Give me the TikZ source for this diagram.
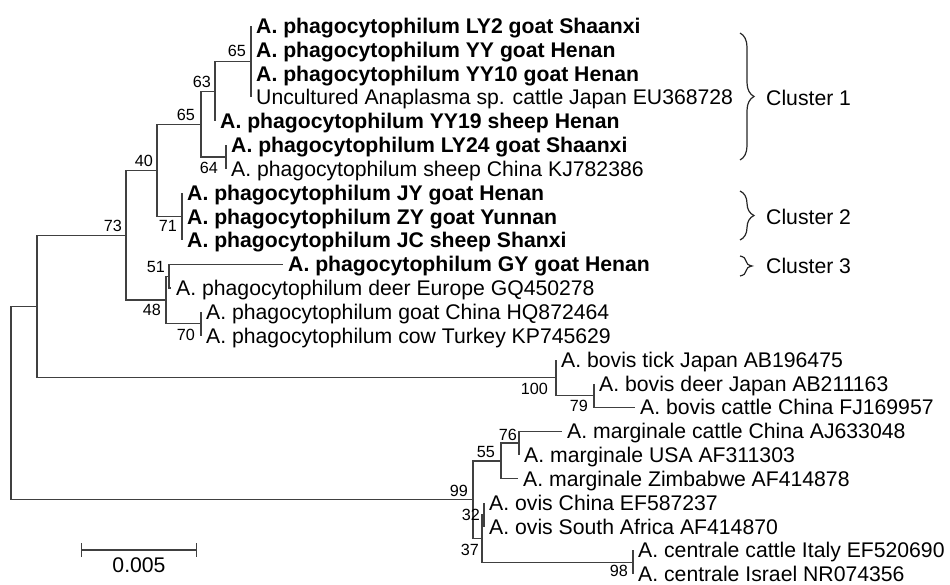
\documentclass[tikz,border=0pt]{standalone}
\usepackage{fontspec}
\setmainfont{Liberation Sans}
\usetikzlibrary{positioning,arrows.meta,decorations.pathreplacing}

\begin{document}
\begin{tikzpicture}%
  [x=1pt,y=-1pt,
   branch/.style={draw=black!75,line width=1.2pt},
   leaf/.style=
    {anchor=west,inner xsep=5pt,inner ysep=0pt,text height=15pt,text depth=0pt,
     font=\fontsize{21.2}{24}\selectfont},
   ours/.style={leaf,font=\fontsize{21.2}{24}\selectfont\bfseries},
   boot/.style=
    {inner sep=0pt,text height=11.5pt,text depth=0pt,font=\fontsize{16.2}{17}\selectfont},
   clusterbrace/.style=
    {draw=black!85,line width=1.2pt,decorate,decoration={brace,amplitude=14pt}},
   clustername/.style=
    {anchor=west,inner sep=0pt,text height=15pt,text depth=0pt,
     font=\fontsize{21.2}{24}\selectfont}
  ]
  \useasboundingbox (0,2) rectangle (950,587);

  % internal nodes
  \coordinate (root) at (11,405);
  \coordinate (nP) at (37,308.4);
  \coordinate (nG) at (126,237.3);
  \coordinate (nE) at (157,172.5);
  \coordinate (nC) at (201,126.3);
  \coordinate (nB) at (215,93.5);
  \coordinate (nA) at (251,63.75);
  \coordinate (nD) at (226,159.1);
  \coordinate (nF) at (182,218.65);
  \coordinate (nI) at (166,302.05);
  \coordinate (nH) at (169,278.2);
  \coordinate (nJ) at (201,325.9);
  \coordinate (nK) at (556,379.5);
  \coordinate (nL) at (594,397.4);
  \coordinate (nM) at (473,501.65);
  \coordinate (nN) at (501,462.9);
  \coordinate (nO) at (519,445.05);
  \coordinate (nQ) at (482,540.4);
  \coordinate (nR) at (484,516.55);
  \coordinate (nS) at (633,564.2);

  % A. phagocytophilum
  \node[ours] (ly2) at (251,28) {A. phagocytophilum LY2 goat Shaanxi};
  \node[ours] (yy) at (251,51.8) {A. phagocytophilum YY goat Henan};
  \node[ours] (yy10) at (251,75.7) {A. phagocytophilum YY10 goat Henan};
  \node[leaf] (eu368728) at (251,99.5) {Uncultured Anaplasma sp. cattle Japan EU368728};
  \node[ours] (yy19) at (215,123.3) {A. phagocytophilum YY19 sheep Henan};
  \node[ours] (ly24) at (226,147.2) {A. phagocytophilum LY24 goat Shaanxi};
  \node[leaf] (kj782386) at (226,171) {A. phagocytophilum sheep China KJ782386};
  \node[ours] (jy) at (182,194.8) {A. phagocytophilum JY goat Henan};
  \node[ours] (zy) at (182,218.6) {A. phagocytophilum ZY goat Yunnan};
  \node[ours] (jc) at (182,242.5) {A. phagocytophilum JC sheep Shanxi};
  \node[ours] (gy) at (283,266.3) {A. phagocytophilum GY goat Henan};
  \node[leaf] (gq450278) at (171,290.1) {A. phagocytophilum deer Europe GQ450278};
  \node[leaf] (hq872464) at (201,314) {A. phagocytophilum goat China HQ872464};
  \node[leaf] (kp745629) at (201,337.8) {A. phagocytophilum cow Turkey KP745629};
  % A. bovis
  \node[leaf] (ab196475) at (556,361.6) {A. bovis tick Japan AB196475};
  \node[leaf] (ab211163) at (594,385.5) {A. bovis deer Japan AB211163};
  \node[leaf] (fj169957) at (635,409.3) {A. bovis cattle China FJ169957};
  % A. marginale, A. ovis, A. centrale
  \node[leaf] (aj633048) at (562,433.1) {A. marginale cattle China AJ633048};
  \node[leaf] (af311303) at (519,457) {A. marginale USA AF311303};
  \node[leaf] (af414878) at (518,480.8) {A. marginale Zimbabwe AF414878};
  \node[leaf] (ef587237) at (484,504.6) {A. ovis China EF587237};
  \node[leaf] (af414870) at (484,528.5) {A. ovis South Africa AF414870};
  \node[leaf] (ef520690) at (633,552.3) {A. centrale cattle Italy EF520690};
  \node[leaf] (nr074356) at (633,576.1) {A. centrale Israel NR074356};

  % branches
  \draw[branch] (root) |- (nP) (root) |- (nM);
  \draw[branch] (nP) |- (nG) (nP) |- (nK);
  \draw[branch] (nG) |- (nE) (nG) |- (nI);
  \draw[branch] (nE) |- (nC) (nE) |- (nF);
  \draw[branch] (nC) |- (nB) (nC) |- (nD);
  \draw[branch] (nB) |- (nA) (nB) |- (yy19.west);
  \draw[branch] (nA) |- (ly2.west) (nA) |- (yy.west)
                (nA) |- (yy10.west) (nA) |- (eu368728.west);
  \draw[branch] (nD) |- (ly24.west) (nD) |- (kj782386.west);
  \draw[branch] (nF) |- (jy.west) (nF) |- (zy.west) (nF) |- (jc.west);
  \draw[branch] (nI) |- (nH) (nI) |- (nJ);
  \draw[branch] (nH) |- (gy.west) (nH) |- (gq450278.west);
  \draw[branch] (nJ) |- (hq872464.west) (nJ) |- (kp745629.west);
  \draw[branch] (nK) |- (ab196475.west) (nK) |- (nL);
  \draw[branch] (nL) |- (ab211163.west) (nL) |- (fj169957.west);
  \draw[branch] (nM) |- (nN) (nM) |- (nQ);
  \draw[branch] (nN) |- (nO) (nN) |- (af414878.west);
  \draw[branch] (nO) |- (aj633048.west) (nO) |- (af311303.west);
  \draw[branch] (nQ) |- (nR) (nQ) |- (nS);
  \draw[branch] (nR) |- (ef587237.west) (nR) |- (af414870.west);
  \draw[branch] (nS) |- (ef520690.west) (nS) |- (nr074356.west);

  % bootstrap values
  \node[boot,above left=5pt and 5pt of nA] (bA) {65};
  \node[boot,above left=4pt and 4pt of nB] (bB) {63};
  \node[boot,above left=4pt and 6pt of nC] (bC) {65};
  \node[boot,below left=5pt and 8pt of nD] (bD) {64};
  \node[boot,above left=4pt and 4pt of nE] (bE) {40};
  \node[boot,below left=3pt and 5pt of nF] (bF) {71};
  \node[boot,above left=4pt and 4pt of nG] (bG) {73};
  \node[boot,above left=3pt and 4pt of nH] (bH) {51};
  \node[boot,below left=4pt and 5pt of nI] (bI) {48};
  \node[boot,below left=5pt and 6pt of nJ] (bJ) {70};
  \node[boot,below left=5pt and 8pt of nK] (bK) {100};
  \node[boot,below left=4pt and 6pt of nL] (bL) {79};
  \node[boot,above left=3pt and 5pt of nM] (bM) {99};
  \node[boot,above left=3pt and 6pt of nN] (bN) {55};
  \node[boot,above left=2pt and 2pt of nO] (bO) {76};
  \node[boot,left=4pt of nR] (bR) {32};
  \node[boot,below left=5pt and 3pt of nQ] (bQ) {37};
  \node[boot,below left=3pt and 5pt of nS] (bS) {98};

  % clusters
  \coordinate (c1top) at (740,35);
  \coordinate (c1bot) at (740,162);
  \coordinate (c2top) at (740,193);
  \coordinate (c2bot) at (740,242);
  \coordinate (c3top) at (740,258);
  \coordinate (c3bot) at (740,278);
  \draw[clusterbrace] (c1top) -- (c1bot);
  \draw[clusterbrace] (c2top) -- (c2bot);
  \draw[clusterbrace,decoration={amplitude=12pt}] (c3top) -- (c3bot);
  \node[clustername] (cl1) at (766,100) {Cluster 1};
  \node[clustername] (cl2) at (766,219) {Cluster 2};
  \node[clustername] (cl3) at (766,268) {Cluster 3};

  % scale bar
  \coordinate (sb1) at (81,552);
  \coordinate (sb2) at (197,552);
  \draw[branch,{Bar[width=14pt]}-{Bar[width=14pt]}] (sb1) -- (sb2);
  \node[boot,font=\fontsize{21.2}{24}\selectfont,text height=15pt] (sblabel) at (139,567) {0.005};
\end{tikzpicture}
\end{document}
